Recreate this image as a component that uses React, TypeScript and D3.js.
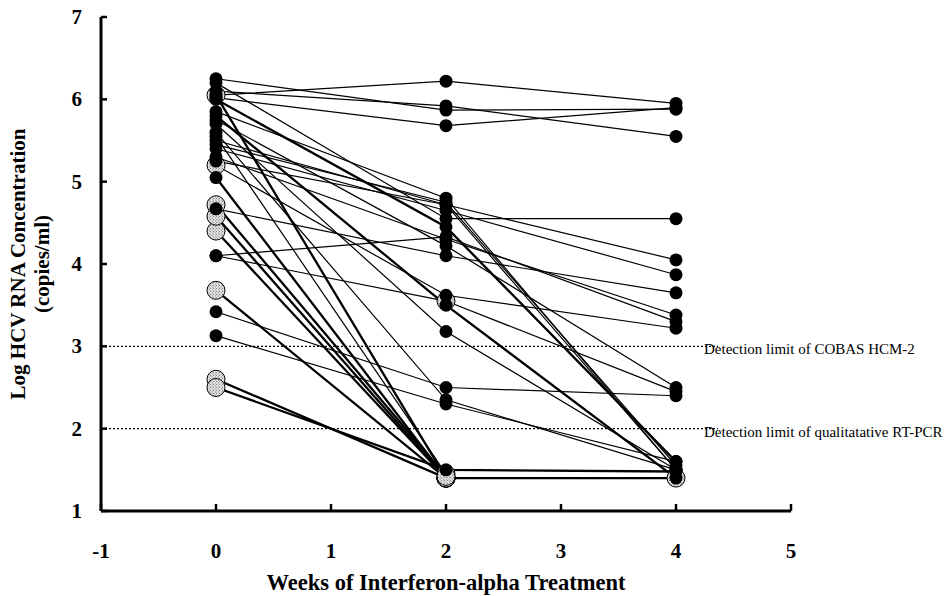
import React from "react";
import * as d3 from "d3";

// weeks sampled
const weeks = [0, 2, 4];
const xTicks = [-1, 0, 1, 2, 3, 4, 5];
const yTicks = [1, 2, 3, 4, 5, 6, 7];

// one row per patient: log values at week 0, 2, 4 (null = not measured)
// grey = which of the three points are drawn as open (grey) circles
const patients = [
  { v: [6.05, 6.22, 5.95], thick: false, grey: "---" },
  { v: [6.25, 5.87, 5.88], thick: false, grey: "---" },
  { v: [6.1, 5.92, 5.55], thick: false, grey: "---" },
  { v: [6.02, 5.68, 5.9], thick: false, grey: "---" },
  { v: [5.85, 4.8, 1.5], thick: false, grey: "---" },
  { v: [5.5, 4.72, 4.05], thick: false, grey: "---" },
  { v: [5.45, 4.75, 1.55], thick: false, grey: "---" },
  { v: [5.4, 4.65, 3.87], thick: false, grey: "---" },
  { v: [6.2, 4.55, 4.55], thick: false, grey: "---" },
  { v: [4.1, 4.33, 3.3], thick: false, grey: "---" },
  { v: [5.3, 4.3, 3.38], thick: false, grey: "---" },
  { v: [5.75, 4.22, 2.5], thick: false, grey: "---" },
  { v: [4.67, 4.1, 3.65], thick: false, grey: "---" },
  { v: [5.2, 3.62, 3.22], thick: false, grey: "g--" },
  { v: [4.1, 3.55, 2.45], thick: false, grey: "-g-" },
  { v: [5.8, 3.5, 1.4], thick: true, grey: "---" },
  { v: [5.7, 3.18, 1.5], thick: false, grey: "---" },
  { v: [3.42, 2.5, 2.4], thick: false, grey: "---" },
  { v: [3.13, 2.3, 1.6], thick: false, grey: "---" },
  { v: [5.6, 2.35, 1.5], thick: false, grey: "---" },
  { v: [2.6, 1.4, 1.4], thick: true, grey: "ggg" },
  { v: [2.5, 1.5, 1.48], thick: true, grey: "g--" },
  { v: [3.68, 1.4, null], thick: true, grey: "gg-" },
  { v: [4.4, 1.4, null], thick: true, grey: "gg-" },
  { v: [4.58, 1.4, null], thick: true, grey: "gg-" },
  { v: [5.05, 1.4, null], thick: true, grey: "-g-" },
  { v: [6.05, 1.4, null], thick: true, grey: "gg-" },
  { v: [5.55, 1.45, null], thick: false, grey: "-g-" },
  { v: [4.72, 1.42, null], thick: true, grey: "gg-" },
  { v: [5.25, 4.72, 1.5], thick: false, grey: "---" },
  { v: [6.0, 4.45, 1.6], thick: true, grey: "---" },
];

const limits = [
  { y: 3, label: "Detection limit of COBAS HCM-2" },
  { y: 2, label: "Detection limit of qualitatative RT-PCR" },
];

const W = 948;
const H = 596;

export default function App() {
  const x = d3.scaleLinear().domain([-1, 5]).range([101, 791]);
  const y = d3.scaleLinear().domain([1, 7]).range([511, 17]);

  const line = d3
    .line<[number, number]>()
    .x((d) => x(d[0]))
    .y((d) => y(d[1]));

  const segs = patients.map((p) =>
    weeks
      .map((w, i) => [w, p.v[i]] as [number, number | null])
      .filter((d) => d[1] != null) as [number, number][]
  );

  const greyPts: [number, number][] = [];
  const blackPts: [number, number][] = [];
  patients.forEach((p) => {
    weeks.forEach((w, i) => {
      const v = p.v[i];
      if (v == null) return;
      if (p.grey[i] === "g") greyPts.push([w, v]);
      else blackPts.push([w, v]);
    });
  });

  const serif = "'Liberation Serif', 'Times New Roman', serif";

  return (
    <svg
      width={W}
      height={H}
      style={{ position: "absolute", left: 0, top: 0, background: "#fff" }}
      fontFamily={serif}
    >
      <defs>
        <pattern id="stip" width="3" height="3" patternUnits="userSpaceOnUse">
          <rect width="3" height="3" fill="#dcdcdc" />
          <rect width="1" height="1" fill="#888" />
          <rect x="2" y="1.5" width="1" height="1" fill="#999" />
        </pattern>
      </defs>

      {/* detection limit lines */}
      {limits.map((l) => (
        <g key={l.label}>
          <line
            x1={x(-1)}
            x2={718}
            y1={y(l.y)}
            y2={y(l.y)}
            stroke="#000"
            strokeWidth={1.4}
            strokeDasharray="2,2"
          />
          <text x={704} y={y(l.y) + 8} fontSize={15} fill="#000">
            {l.label}
          </text>
        </g>
      ))}

      {/* patient lines */}
      {segs.map((s, i) => (
        <path
          key={i}
          d={line(s) || ""}
          fill="none"
          stroke="#000"
          strokeWidth={patients[i].thick ? 2.3 : 1.2}
        />
      ))}

      {/* grey markers */}
      {greyPts.map((d, i) => (
        <circle
          key={"g" + i}
          cx={x(d[0])}
          cy={y(d[1])}
          r={9}
          fill="url(#stip)"
          stroke="#000"
          strokeWidth={1}
        />
      ))}
      {/* black markers */}
      {blackPts.map((d, i) => (
        <circle key={"b" + i} cx={x(d[0])} cy={y(d[1])} r={6.5} fill="#000" />
      ))}

      {/* axes */}
      <line x1={x(-1)} x2={x(5)} y1={y(1)} y2={y(1)} stroke="#000" strokeWidth={3} />
      <line x1={x(-1)} x2={x(-1)} y1={y(7)} y2={y(1)} stroke="#000" strokeWidth={3} />
      {xTicks.map((t) => (
        <g key={"x" + t}>
          <line x1={x(t)} x2={x(t)} y1={y(1)} y2={y(1) - 7} stroke="#000" strokeWidth={2.5} />
          <text
            x={x(t)}
            y={558}
            textAnchor="middle"
            fontSize={21}
            fontWeight="bold"
          >
            {t}
          </text>
        </g>
      ))}
      {yTicks.map((t) => (
        <g key={"y" + t}>
          <line x1={x(-1)} x2={x(-1) + 6} y1={y(t)} y2={y(t)} stroke="#000" strokeWidth={2.5} />
          <text x={82} y={y(t) + 7} textAnchor="end" fontSize={21} fontWeight="bold">
            {t}
          </text>
        </g>
      ))}

      <text x={446} y={590} textAnchor="middle" fontSize={22.5} fontWeight="bold">
        Weeks of Interferon-alpha Treatment
      </text>
      <g transform={`translate(25, ${y(4)}) rotate(-90)`}>
        <text x={0} y={0} textAnchor="middle" fontSize={21} fontWeight="bold">
          Log HCV RNA Concentration
        </text>
        <text x={0} y={24} textAnchor="middle" fontSize={21} fontWeight="bold">
          (copies/ml)
        </text>
      </g>
    </svg>
  );
}
